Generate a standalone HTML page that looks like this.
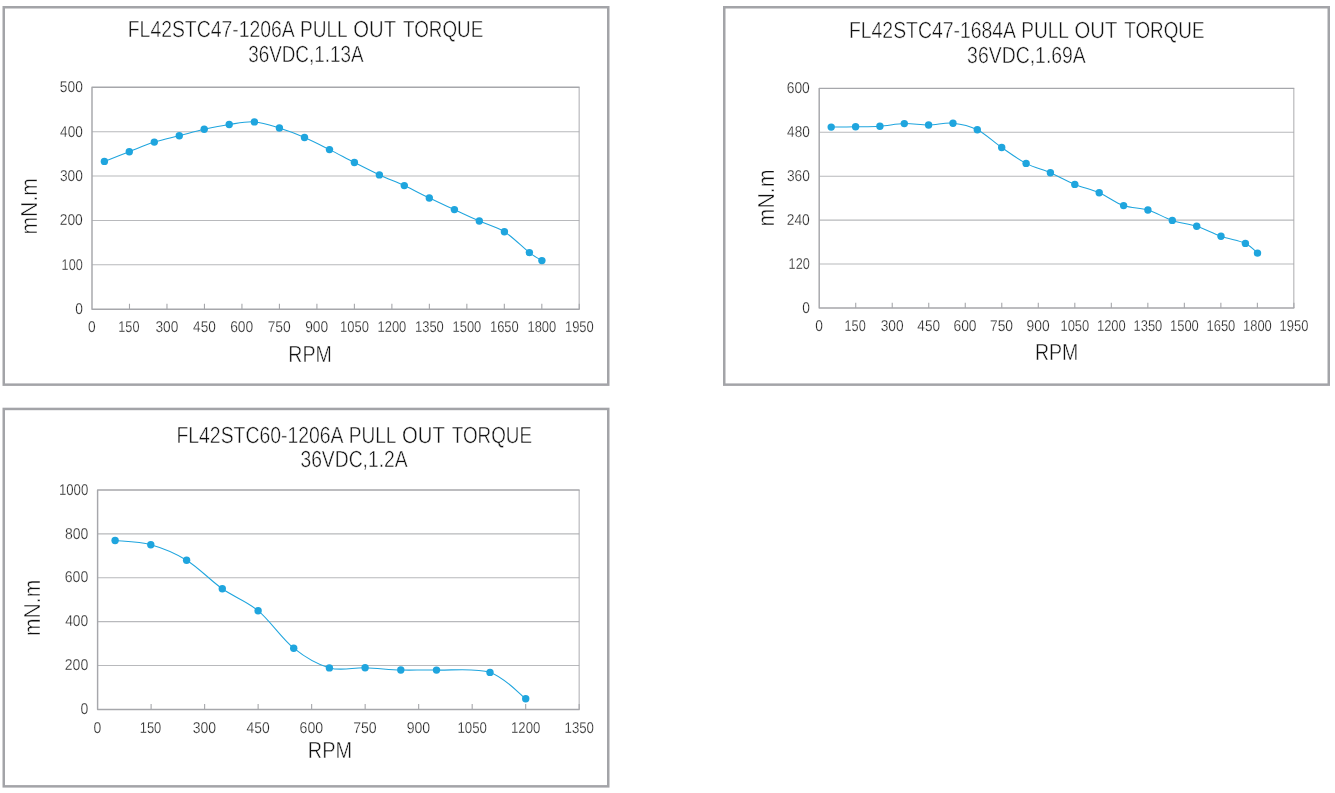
<!DOCTYPE html>
<html lang="en">
<head>
<meta charset="utf-8">
<title>Pull Out Torque Curves</title>
<style>
html,body{margin:0;padding:0;background:#fff;}
body{width:1335px;height:793px;position:relative;overflow:hidden;font-family:"Liberation Sans", "DejaVu Sans", sans-serif;}
.charts{position:absolute;left:0;top:0;width:1335px;height:793px;margin:0;}
.chart-card{position:absolute;margin:0;padding:0;}
.chart{position:absolute;left:0;top:0;display:block;overflow:visible;}
text{font-family:"Liberation Sans", "DejaVu Sans", sans-serif;font-weight:400;font-kerning:normal;text-rendering:geometricPrecision;stroke:#fff;vector-effect:non-scaling-stroke;paint-order:fill stroke;stroke-linejoin:round;}
.title{fill:#101010;stroke-width:0.46px;}
.axis-title{fill:#101010;stroke-width:0.46px;}
.tick{fill:#1e1e1e;stroke-width:0.26px;}
.frame{fill:#fff;stroke:#a3a4a8;stroke-width:2.5;}
.plot{fill:none;stroke:#a6a7ab;stroke-width:1.45;stroke-linejoin:round;}
.plot-right{fill:none;stroke:#a6a7ab;stroke-width:0.95;}
.grid{stroke:#b8b9bc;stroke-width:1.1;fill:none;}
.tickmark{stroke:#a6a7ab;stroke-width:1.1;fill:none;}
.series{fill:none;stroke:#1fa5de;stroke-width:1.05;stroke-linejoin:round;stroke-linecap:round;}
.marker{fill:#1fa5de;}
</style>
</head>
<body>
<main class="charts">
<figure class="chart-card" id="c1" style="left:0px;top:0px;width:612px;height:392px">
<svg class="chart" width="612" height="392" viewBox="0 0 612 392" role="img" aria-label="FL42STC47-1206A PULL OUT TORQUE 36VDC,1.13A">
<rect class="frame" x="3.75" y="7.25" width="604.5" height="377.4"/>
<text class="title" font-size="23.19" y="37.4"><tspan x="127.76" textLength="165.98" lengthAdjust="spacingAndGlyphs">FL42STC47-1206A</tspan> <tspan x="300" textLength="46.99" lengthAdjust="spacingAndGlyphs">PULL</tspan> <tspan x="353.29" textLength="42.53" lengthAdjust="spacingAndGlyphs">OUT</tspan> <tspan x="403.02" textLength="80.27" lengthAdjust="spacingAndGlyphs">TORQUE</tspan></text>
<text class="title" font-size="23.19" x="248.14" y="61.7" textLength="115.5" lengthAdjust="spacingAndGlyphs">36VDC,1.13A</text>
<path class="grid" d="M92 264.82H579.3M92 220.44H579.3M92 176.06H579.3M92 131.68H579.3"/>
<path class="tickmark" d="M129.48 309.2V303.85M166.97 309.2V303.85M204.45 309.2V303.85M241.94 309.2V303.85M279.42 309.2V303.85M316.91 309.2V303.85M354.39 309.2V303.85M391.88 309.2V303.85M429.36 309.2V303.85M466.85 309.2V303.85M504.33 309.2V303.85M541.82 309.2V303.85M579.3 309.2V303.85"/>
<path class="plot-right" d="M579.15 87.3V309.2"/>
<path class="plot" d="M579.6 87.3H92V309.2H579.6"/>
<path class="series" d="M104.4 161.4C108.55 159.78 120.98 154.92 129.3 151.7C137.62 148.48 145.97 144.77 154.3 142.1C162.63 139.43 170.98 137.83 179.3 135.7C187.62 133.57 195.88 131.17 204.2 129.3C212.52 127.43 220.83 125.73 229.2 124.5C237.57 123.27 246.03 121.32 254.4 121.9C262.77 122.48 271.05 125.4 279.4 128C287.75 130.6 296.15 133.9 304.5 137.5C312.85 141.1 321.18 145.43 329.5 149.6C337.82 153.77 346.08 158.28 354.4 162.5C362.72 166.72 371.08 171.05 379.4 174.9C387.72 178.75 395.98 181.75 404.3 185.6C412.62 189.45 420.95 194 429.3 198C437.65 202 446.07 205.77 454.4 209.6C462.73 213.43 470.97 217.32 479.3 221C487.63 224.68 496.05 226.43 504.4 231.7C512.75 236.97 523.15 247.78 529.4 252.6C535.65 257.42 539.82 259.27 541.9 260.6"/>
<g class="marker"><circle cx="104.4" cy="161.4" r="3.7"/><circle cx="129.3" cy="151.7" r="3.7"/><circle cx="154.3" cy="142.1" r="3.7"/><circle cx="179.3" cy="135.7" r="3.7"/><circle cx="204.2" cy="129.3" r="3.7"/><circle cx="229.2" cy="124.5" r="3.7"/><circle cx="254.4" cy="121.9" r="3.7"/><circle cx="279.4" cy="128" r="3.7"/><circle cx="304.5" cy="137.5" r="3.7"/><circle cx="329.5" cy="149.6" r="3.7"/><circle cx="354.4" cy="162.5" r="3.7"/><circle cx="379.4" cy="174.9" r="3.7"/><circle cx="404.3" cy="185.6" r="3.7"/><circle cx="429.3" cy="198" r="3.7"/><circle cx="454.4" cy="209.6" r="3.7"/><circle cx="479.3" cy="221" r="3.7"/><circle cx="504.4" cy="231.7" r="3.7"/><circle cx="529.4" cy="252.6" r="3.7"/><circle cx="541.9" cy="260.6" r="3.7"/></g>
<g class="xlabels"><text class="tick" font-size="15.71" x="88.03" y="332" textLength="7.65" lengthAdjust="spacingAndGlyphs">0</text><text class="tick" font-size="15.71" x="118.31" y="332" textLength="21.15" lengthAdjust="spacingAndGlyphs">150</text><text class="tick" font-size="15.71" x="155.38" y="332" textLength="22.89" lengthAdjust="spacingAndGlyphs">300</text><text class="tick" font-size="15.71" x="193.08" y="332" textLength="22.67" lengthAdjust="spacingAndGlyphs">450</text><text class="tick" font-size="15.71" x="230.14" y="332" textLength="23.1" lengthAdjust="spacingAndGlyphs">600</text><text class="tick" font-size="15.71" x="267.63" y="332" textLength="23.1" lengthAdjust="spacingAndGlyphs">750</text><text class="tick" font-size="15.71" x="305.18" y="332" textLength="23.03" lengthAdjust="spacingAndGlyphs">900</text><text class="tick" font-size="15.71" x="340.04" y="332" textLength="28.8" lengthAdjust="spacingAndGlyphs">1050</text><text class="tick" font-size="15.71" x="377.53" y="332" textLength="28.8" lengthAdjust="spacingAndGlyphs">1200</text><text class="tick" font-size="15.71" x="415.01" y="332" textLength="28.8" lengthAdjust="spacingAndGlyphs">1350</text><text class="tick" font-size="15.71" x="452.5" y="332" textLength="28.8" lengthAdjust="spacingAndGlyphs">1500</text><text class="tick" font-size="15.71" x="489.98" y="332" textLength="28.8" lengthAdjust="spacingAndGlyphs">1650</text><text class="tick" font-size="15.71" x="527.46" y="332" textLength="28.8" lengthAdjust="spacingAndGlyphs">1800</text><text class="tick" font-size="15.71" x="564.95" y="332" textLength="28.8" lengthAdjust="spacingAndGlyphs">1950</text></g>
<g class="ylabels"><text class="tick" font-size="15.71" x="75.15" y="314.2" textLength="7.65" lengthAdjust="spacingAndGlyphs">0</text><text class="tick" font-size="15.71" x="61.61" y="269.82" textLength="21.15" lengthAdjust="spacingAndGlyphs">100</text><text class="tick" font-size="15.71" x="59.7" y="225.44" textLength="23.1" lengthAdjust="spacingAndGlyphs">200</text><text class="tick" font-size="15.71" x="59.91" y="181.06" textLength="22.89" lengthAdjust="spacingAndGlyphs">300</text><text class="tick" font-size="15.71" x="60.12" y="136.68" textLength="22.67" lengthAdjust="spacingAndGlyphs">400</text><text class="tick" font-size="15.71" x="59.84" y="92.3" textLength="22.96" lengthAdjust="spacingAndGlyphs">500</text></g>
<text class="axis-title" font-size="23.19" x="288.33" y="361.75" textLength="43.49" lengthAdjust="spacingAndGlyphs">RPM</text>
<text class="axis-title" font-size="23.19" transform="translate(36.5 234.58) rotate(-90)" textLength="56.62" lengthAdjust="spacingAndGlyphs">mN.m</text>
</svg>
</figure>
<figure class="chart-card" id="c2" style="left:720px;top:0px;width:615px;height:392px">
<svg class="chart" width="615" height="392" viewBox="720 0 615 392" role="img" aria-label="FL42STC47-1684A PULL OUT TORQUE 36VDC,1.69A">
<rect class="frame" x="724.25" y="7.25" width="604.5" height="377.4"/>
<text class="title" font-size="23.19" y="38.2"><tspan x="848.96" textLength="165.98" lengthAdjust="spacingAndGlyphs">FL42STC47-1684A</tspan> <tspan x="1021.2" textLength="46.99" lengthAdjust="spacingAndGlyphs">PULL</tspan> <tspan x="1074.49" textLength="42.53" lengthAdjust="spacingAndGlyphs">OUT</tspan> <tspan x="1124.22" textLength="80.27" lengthAdjust="spacingAndGlyphs">TORQUE</tspan></text>
<text class="title" font-size="23.19" x="967.12" y="62.9" textLength="118.72" lengthAdjust="spacingAndGlyphs">36VDC,1.69A</text>
<path class="grid" d="M819.2 264.07H1293.9M819.2 220.14H1293.9M819.2 176.21H1293.9M819.2 132.28H1293.9"/>
<path class="tickmark" d="M855.72 308V302.65M892.23 308V302.65M928.75 308V302.65M965.26 308V302.65M1001.78 308V302.65M1038.29 308V302.65M1074.81 308V302.65M1111.32 308V302.65M1147.84 308V302.65M1184.35 308V302.65M1220.87 308V302.65M1257.38 308V302.65M1293.9 308V302.65"/>
<path class="plot-right" d="M1293.83 88.35V308"/>
<path class="plot" d="M1294.28 88.35H819.2V308H1294.28"/>
<path class="series" d="M831.2 127.1C835.27 127.05 847.48 126.95 855.6 126.8C863.72 126.65 871.78 126.73 879.9 126.2C888.02 125.67 896.18 123.8 904.3 123.6C912.42 123.4 920.48 125.07 928.6 125C936.72 124.93 944.88 122.42 953 123.2C961.12 123.98 969.18 125.65 977.3 129.7C985.42 133.75 993.57 141.88 1001.7 147.5C1009.83 153.12 1017.98 159.18 1026.1 163.4C1034.22 167.62 1042.28 169.3 1050.4 172.8C1058.52 176.3 1066.67 181.08 1074.8 184.4C1082.93 187.72 1091.07 189.17 1099.2 192.7C1107.33 196.23 1115.48 202.72 1123.6 205.6C1131.72 208.48 1139.78 207.53 1147.9 210C1156.02 212.47 1164.17 217.68 1172.3 220.4C1180.43 223.12 1188.58 223.65 1196.7 226.3C1204.82 228.95 1212.88 233.45 1221 236.3C1229.12 239.15 1239.32 240.6 1245.4 243.4C1251.48 246.2 1255.48 251.48 1257.5 253.1"/>
<g class="marker"><circle cx="831.2" cy="127.1" r="3.7"/><circle cx="855.6" cy="126.8" r="3.7"/><circle cx="879.9" cy="126.2" r="3.7"/><circle cx="904.3" cy="123.6" r="3.7"/><circle cx="928.6" cy="125" r="3.7"/><circle cx="953" cy="123.2" r="3.7"/><circle cx="977.3" cy="129.7" r="3.7"/><circle cx="1001.7" cy="147.5" r="3.7"/><circle cx="1026.1" cy="163.4" r="3.7"/><circle cx="1050.4" cy="172.8" r="3.7"/><circle cx="1074.8" cy="184.4" r="3.7"/><circle cx="1099.2" cy="192.7" r="3.7"/><circle cx="1123.6" cy="205.6" r="3.7"/><circle cx="1147.9" cy="210" r="3.7"/><circle cx="1172.3" cy="220.4" r="3.7"/><circle cx="1196.7" cy="226.3" r="3.7"/><circle cx="1221" cy="236.3" r="3.7"/><circle cx="1245.4" cy="243.4" r="3.7"/><circle cx="1257.5" cy="253.1" r="3.7"/></g>
<g class="xlabels"><text class="tick" font-size="15.71" x="815.23" y="330.8" textLength="7.65" lengthAdjust="spacingAndGlyphs">0</text><text class="tick" font-size="15.71" x="844.54" y="330.8" textLength="21.15" lengthAdjust="spacingAndGlyphs">150</text><text class="tick" font-size="15.71" x="880.65" y="330.8" textLength="22.89" lengthAdjust="spacingAndGlyphs">300</text><text class="tick" font-size="15.71" x="917.37" y="330.8" textLength="22.67" lengthAdjust="spacingAndGlyphs">450</text><text class="tick" font-size="15.71" x="953.46" y="330.8" textLength="23.1" lengthAdjust="spacingAndGlyphs">600</text><text class="tick" font-size="15.71" x="989.98" y="330.8" textLength="23.1" lengthAdjust="spacingAndGlyphs">750</text><text class="tick" font-size="15.71" x="1026.57" y="330.8" textLength="23.03" lengthAdjust="spacingAndGlyphs">900</text><text class="tick" font-size="15.71" x="1060.46" y="330.8" textLength="28.8" lengthAdjust="spacingAndGlyphs">1050</text><text class="tick" font-size="15.71" x="1096.97" y="330.8" textLength="28.8" lengthAdjust="spacingAndGlyphs">1200</text><text class="tick" font-size="15.71" x="1133.49" y="330.8" textLength="28.8" lengthAdjust="spacingAndGlyphs">1350</text><text class="tick" font-size="15.71" x="1170" y="330.8" textLength="28.8" lengthAdjust="spacingAndGlyphs">1500</text><text class="tick" font-size="15.71" x="1206.52" y="330.8" textLength="28.8" lengthAdjust="spacingAndGlyphs">1650</text><text class="tick" font-size="15.71" x="1243.03" y="330.8" textLength="28.8" lengthAdjust="spacingAndGlyphs">1800</text><text class="tick" font-size="15.71" x="1279.55" y="330.8" textLength="28.8" lengthAdjust="spacingAndGlyphs">1950</text></g>
<g class="ylabels"><text class="tick" font-size="15.71" x="802.15" y="313" textLength="7.65" lengthAdjust="spacingAndGlyphs">0</text><text class="tick" font-size="15.71" x="788.61" y="269.07" textLength="21.15" lengthAdjust="spacingAndGlyphs">120</text><text class="tick" font-size="15.71" x="786.7" y="225.14" textLength="23.1" lengthAdjust="spacingAndGlyphs">240</text><text class="tick" font-size="15.71" x="786.91" y="181.21" textLength="22.89" lengthAdjust="spacingAndGlyphs">360</text><text class="tick" font-size="15.71" x="787.12" y="137.28" textLength="22.67" lengthAdjust="spacingAndGlyphs">480</text><text class="tick" font-size="15.71" x="786.7" y="93.35" textLength="23.1" lengthAdjust="spacingAndGlyphs">600</text></g>
<text class="axis-title" font-size="23.19" x="1034.93" y="360.3" textLength="43.49" lengthAdjust="spacingAndGlyphs">RPM</text>
<text class="axis-title" font-size="23.19" transform="translate(774.2 226.39) rotate(-90)" textLength="56.93" lengthAdjust="spacingAndGlyphs">mN.m</text>
</svg>
</figure>
<figure class="chart-card" id="c3" style="left:0px;top:402px;width:612px;height:391px">
<svg class="chart" width="612" height="391" viewBox="0 402 612 391" role="img" aria-label="FL42STC60-1206A PULL OUT TORQUE 36VDC,1.2A">
<rect class="frame" x="3.75" y="408.95" width="604.5" height="377.4"/>
<text class="title" font-size="23.19" y="442.5"><tspan x="176.46" textLength="165.98" lengthAdjust="spacingAndGlyphs">FL42STC60-1206A</tspan> <tspan x="348.7" textLength="46.99" lengthAdjust="spacingAndGlyphs">PULL</tspan> <tspan x="401.99" textLength="42.53" lengthAdjust="spacingAndGlyphs">OUT</tspan> <tspan x="451.72" textLength="80.27" lengthAdjust="spacingAndGlyphs">TORQUE</tspan></text>
<text class="title" font-size="23.19" x="300.42" y="467.4" textLength="107.22" lengthAdjust="spacingAndGlyphs">36VDC,1.2A</text>
<path class="grid" d="M97.6 665.56H579.2M97.6 621.67H579.2M97.6 577.78H579.2M97.6 533.89H579.2"/>
<path class="tickmark" d="M151.11 709.45V704.1M204.62 709.45V704.1M258.13 709.45V704.1M311.64 709.45V704.1M365.16 709.45V704.1M418.67 709.45V704.1M472.18 709.45V704.1M525.69 709.45V704.1M579.2 709.45V704.1"/>
<path class="plot-right" d="M579.15 490V709.45"/>
<path class="plot" d="M579.6 490H97.6V709.45H579.6"/>
<path class="series" d="M115.1 540.5C121.05 541.2 138.88 541.42 150.8 544.7C162.72 547.98 174.68 552.85 186.6 560.2C198.52 567.55 210.38 580.38 222.3 588.8C234.22 597.22 246.2 600.8 258.1 610.7C270 620.6 281.82 638.67 293.7 648.2C305.58 657.73 317.5 664.63 329.4 667.9C341.3 671.17 353.2 667.45 365.1 667.8C377 668.15 388.9 669.62 400.8 670C412.7 670.38 421.63 669.7 436.5 670.1C451.37 670.5 475.13 667.62 490 672.4C504.87 677.18 519.75 694.4 525.7 698.8"/>
<g class="marker"><circle cx="115.1" cy="540.5" r="3.7"/><circle cx="150.8" cy="544.7" r="3.7"/><circle cx="186.6" cy="560.2" r="3.7"/><circle cx="222.3" cy="588.8" r="3.7"/><circle cx="258.1" cy="610.7" r="3.7"/><circle cx="293.7" cy="648.2" r="3.7"/><circle cx="329.4" cy="667.9" r="3.7"/><circle cx="365.1" cy="667.8" r="3.7"/><circle cx="400.8" cy="670" r="3.7"/><circle cx="436.5" cy="670.1" r="3.7"/><circle cx="490" cy="672.4" r="3.7"/><circle cx="525.7" cy="698.8" r="3.7"/></g>
<g class="xlabels"><text class="tick" font-size="15.71" x="93.56" y="732.7" textLength="7.8" lengthAdjust="spacingAndGlyphs">0</text><text class="tick" font-size="15.71" x="139.72" y="732.7" textLength="21.57" lengthAdjust="spacingAndGlyphs">150</text><text class="tick" font-size="15.71" x="192.81" y="732.7" textLength="23.34" lengthAdjust="spacingAndGlyphs">300</text><text class="tick" font-size="15.71" x="246.53" y="732.7" textLength="23.13" lengthAdjust="spacingAndGlyphs">450</text><text class="tick" font-size="15.71" x="299.61" y="732.7" textLength="23.57" lengthAdjust="spacingAndGlyphs">600</text><text class="tick" font-size="15.71" x="353.13" y="732.7" textLength="23.57" lengthAdjust="spacingAndGlyphs">750</text><text class="tick" font-size="15.71" x="406.71" y="732.7" textLength="23.49" lengthAdjust="spacingAndGlyphs">900</text><text class="tick" font-size="15.71" x="457.53" y="732.7" textLength="29.37" lengthAdjust="spacingAndGlyphs">1050</text><text class="tick" font-size="15.71" x="511.04" y="732.7" textLength="29.37" lengthAdjust="spacingAndGlyphs">1200</text><text class="tick" font-size="15.71" x="564.56" y="732.7" textLength="29.37" lengthAdjust="spacingAndGlyphs">1350</text></g>
<g class="ylabels"><text class="tick" font-size="15.71" x="80.51" y="714.1" textLength="7.8" lengthAdjust="spacingAndGlyphs">0</text><text class="tick" font-size="15.71" x="64.75" y="670.21" textLength="23.57" lengthAdjust="spacingAndGlyphs">200</text><text class="tick" font-size="15.71" x="65.17" y="626.32" textLength="23.13" lengthAdjust="spacingAndGlyphs">400</text><text class="tick" font-size="15.71" x="64.75" y="582.43" textLength="23.57" lengthAdjust="spacingAndGlyphs">600</text><text class="tick" font-size="15.71" x="64.89" y="538.54" textLength="23.42" lengthAdjust="spacingAndGlyphs">800</text><text class="tick" font-size="15.71" x="58.9" y="494.65" textLength="29.37" lengthAdjust="spacingAndGlyphs">1000</text></g>
<text class="axis-title" font-size="23.19" x="307.8" y="758.2" textLength="44.35" lengthAdjust="spacingAndGlyphs">RPM</text>
<text class="axis-title" font-size="23.19" transform="translate(40.2 635.97) rotate(-90)" textLength="56.3" lengthAdjust="spacingAndGlyphs">mN.m</text>
</svg>
</figure>
</main>
</body>
</html>
